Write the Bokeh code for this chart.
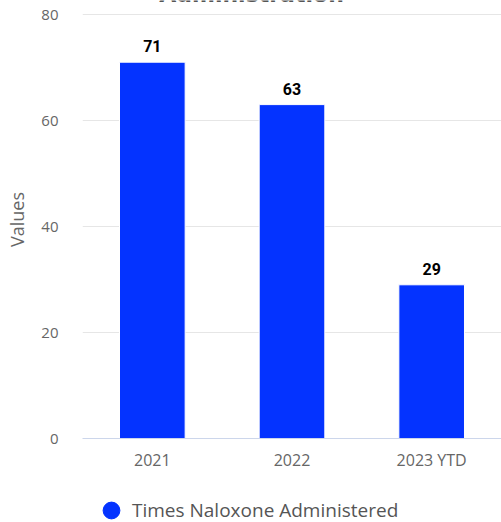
from bokeh.plotting import figure
from bokeh.layouts import column
from bokeh.models import ColumnDataSource, LabelSet, Label, Legend, LegendItem, FactorRange, FixedTicker
from bokeh.core.properties import value
from bokeh.embed import file_html
from bokeh.resources import INLINE

categories = ["2021", "2022", "2023 YTD"]
values = [71, 63, 29]
y_ticks = [0, 20, 40, 60, 80]
series_name = "Times Naloxone Administered"
title_text = "Administration"
y_label = "Values"

FONT = "Open Sans"
BOLD_FONT = "Roboto"
TITLE_FONT = "DejaVu Sans"
BAR = "#0433ff"

# y range extends a little above 80 so the frame reaches the top edge of the page
Y_MAX = 80 * 438 / 424

src = ColumnDataSource(dict(cat=categories, val=values, lab=[str(v) for v in values]))

fig = figure(x_range=FactorRange(factors=categories, range_padding=0), y_range=(0, Y_MAX),
             frame_width=419, frame_height=438,
             min_border_left=82, min_border_right=0, min_border_top=0, min_border_bottom=44,
             output_backend="svg", toolbar_location=None)
fig.outline_line_color = None
fig.background_fill_color = "white"

fig.vbar(x="cat", top="val", width=0.47, source=src, fill_color=BAR,
         line_color="white", line_width=1)

fig.add_layout(LabelSet(x="cat", y="val", text="lab", source=src, y_offset=10,
                        text_align="center", text_baseline="alphabetic",
                        text_font=value(BOLD_FONT), text_font_size="16px", text_font_style="bold",
                        text_color="#000000"))

fig.yaxis.ticker = FixedTicker(ticks=y_ticks)
fig.yaxis.axis_line_color = None
fig.yaxis.major_tick_line_color = None
fig.yaxis.major_tick_out = 0
fig.yaxis.major_tick_in = 0
fig.yaxis.minor_tick_line_color = None
fig.yaxis.major_label_standoff = 24
fig.yaxis.major_label_text_font = FONT
fig.yaxis.major_label_text_font_size = "15px"
fig.yaxis.major_label_text_color = "#666666"
fig.yaxis.axis_label = y_label
fig.yaxis.axis_label_text_font = FONT
fig.yaxis.axis_label_text_font_size = "18px"
fig.yaxis.axis_label_text_font_style = "normal"
fig.yaxis.axis_label_text_color = "#666666"
fig.yaxis.axis_label_standoff = 9

fig.xaxis.axis_line_color = "#ccd6eb"
fig.xaxis.major_tick_line_color = None
fig.xaxis.major_tick_out = 0
fig.xaxis.major_tick_in = 0
fig.xaxis.minor_tick_line_color = None
fig.xaxis.major_label_standoff = 10
fig.xaxis.major_label_text_font = FONT
fig.xaxis.major_label_text_font_size = "16px"
fig.xaxis.major_label_text_color = "#666666"

fig.xgrid.grid_line_color = None
fig.ygrid.grid_line_color = "#e6e6e6"

# partially visible title (cut off by the top edge of the page)
fig.add_layout(Label(x=1.21, y=80 * (438 + 6) / 424, text=title_text, text_align="center",
                     text_baseline="alphabetic",
                     text_font=TITLE_FONT, text_font_size="22px", text_font_style="bold",
                     text_color="#555555"))

# ---- legend strip below the chart
leg = figure(width=501, height=40, frame_width=501, frame_height=40,
             min_border=0, x_range=(0, 1), y_range=(0, 1),
             x_axis_type=None, y_axis_type=None,
             output_backend="svg", toolbar_location=None)
leg.outline_line_color = None
leg.xgrid.grid_line_color = None
leg.ygrid.grid_line_color = None
dummy = leg.scatter(x=[-5], y=[-5], marker="circle", size=17, fill_color=BAR, line_color=BAR)
legend = Legend(items=[LegendItem(label=series_name, renderers=[dummy])],
                location=(90, -9), orientation="horizontal",
                glyph_width=42, glyph_height=42, label_standoff=0,
                padding=0, margin=0, border_line_color=None, background_fill_alpha=0,
                label_text_font=FONT, label_text_font_size="19px", label_text_color="#555555")
leg.add_layout(legend, "center")

p = column(fig, leg, spacing=0)

open("out.html", "w").write(file_html(p, INLINE))
